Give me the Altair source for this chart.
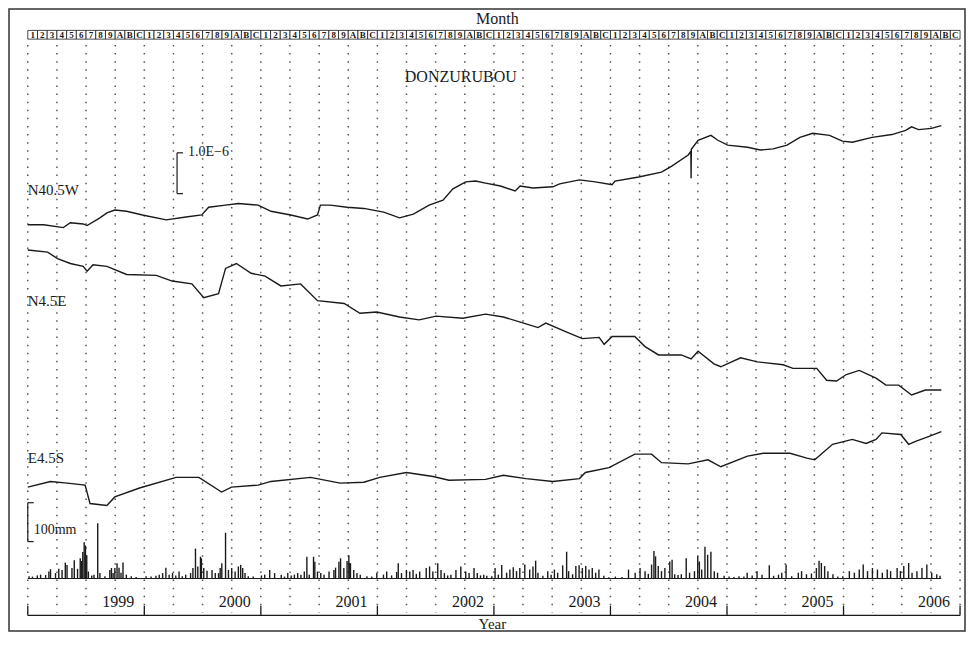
import altair as alt
import pandas as pd

# ---------------- data ----------------
MONTH_CODES = ["1", "2", "3", "4", "5", "6", "7", "8", "9", "A", "B", "C"]
YEAR_LABELS = ["1999", "2000", "2001", "2002", "2003", "2004", "2005", "2006"]

# N40.5W strain (x 1e-6, relative)
N40_T = [1998.000, 1998.136, 1998.305, 1998.365, 1998.475, 1998.509, 1998.619, 1998.679, 1998.747, 1998.848, 1998.984,
         1999.188, 1999.357, 1999.493, 1999.552, 1999.697, 1999.807, 1999.977,
         2000.087, 2000.257, 2000.401, 2000.486, 2000.511, 2000.596, 2000.740, 2000.884,
         2001.054, 2001.190, 2001.309, 2001.444, 2001.563, 2001.648, 2001.758, 2001.843, 2001.928,
         2002.056, 2002.182, 2002.225, 2002.335, 2002.505, 2002.564, 2002.734, 2002.870,
         2003.014, 2003.039, 2003.243, 2003.438, 2003.523, 2003.667, 2003.690, 2003.692, 2003.694, 2003.752, 2003.862, 2003.922,
         2004.006, 2004.176, 2004.286, 2004.397, 2004.515, 2004.626, 2004.736, 2004.880, 2004.990,
         2005.075, 2005.245, 2005.415, 2005.533, 2005.584, 2005.644, 2005.754, 2005.839]
N40_V = [0.00, 0.00, -0.07, 0.05, 0.02, -0.02, 0.17, 0.29, 0.36, 0.33, 0.24,
         0.12, 0.19, 0.24, 0.43, 0.48, 0.52, 0.48,
         0.33, 0.24, 0.14, 0.24, 0.48, 0.48, 0.43, 0.40,
         0.31, 0.17, 0.26, 0.48, 0.60, 0.88, 1.05, 1.07, 1.02,
         0.95, 0.83, 0.95, 0.90, 0.93, 1.00, 1.10, 1.05,
         0.98, 1.07, 1.17, 1.29, 1.43, 1.71, 1.80, 1.14, 1.85, 2.07, 2.19, 2.07,
         1.95, 1.90, 1.83, 1.86, 1.95, 2.14, 2.24, 2.19, 2.05,
         2.02, 2.14, 2.21, 2.31, 2.40, 2.33, 2.36, 2.43]

# N4.5E strain
N4_T = [1998.000, 1998.170, 1998.255, 1998.365, 1998.475, 1998.509, 1998.560, 1998.679, 1998.848,
        1999.103, 1999.239, 1999.408, 1999.510, 1999.637, 1999.697, 1999.790, 1999.917,
        2000.036, 2000.172, 2000.341, 2000.486, 2000.715, 2000.850, 2000.995,
        2001.190, 2001.359, 2001.504, 2001.733, 2001.928,
        2002.081, 2002.276, 2002.378, 2002.445, 2002.615, 2002.759, 2002.903, 2002.946,
        2003.014, 2003.209, 2003.294, 2003.413, 2003.608, 2003.692, 2003.752, 2003.888, 2003.947,
        2004.117, 2004.261, 2004.482, 2004.566, 2004.770, 2004.855, 2004.940,
        2005.024, 2005.135, 2005.279, 2005.364, 2005.474, 2005.584, 2005.703, 2005.839]
N4_V = [0.00, -0.05, -0.21, -0.33, -0.40, -0.52, -0.36, -0.40, -0.60,
        -0.62, -0.76, -0.83, -1.17, -1.07, -0.45, -0.33, -0.57,
        -0.64, -0.88, -0.83, -1.24, -1.31, -1.55, -1.52,
        -1.64, -1.71, -1.62, -1.67, -1.57,
        -1.64, -1.81, -1.90, -1.79, -2.00, -2.17, -2.14, -2.31,
        -2.12, -2.12, -2.36, -2.57, -2.57, -2.67, -2.48, -2.79, -2.86,
        -2.64, -2.74, -2.81, -2.90, -2.90, -3.19, -3.21,
        -3.05, -2.95, -3.14, -3.31, -3.31, -3.55, -3.43, -3.43]

# E4.5S strain
E4_T = [1998.000, 1998.195, 1998.339, 1998.492, 1998.534, 1998.679, 1998.747, 1998.959,
        1999.273, 1999.468, 1999.663, 1999.748, 1999.977,
        2000.087, 2000.426, 2000.681, 2000.884,
        2001.020, 2001.249, 2001.478, 2001.614, 2001.928,
        2002.081, 2002.276, 2002.505, 2002.734, 2002.785, 2002.988,
        2003.209, 2003.353, 2003.438, 2003.667, 2003.837, 2003.947,
        2004.176, 2004.312, 2004.541, 2004.685, 2004.753, 2004.906,
        2005.075, 2005.194, 2005.279, 2005.330, 2005.491, 2005.559, 2005.618, 2005.729, 2005.839]
E4_V = [0.00, 0.14, 0.10, 0.05, -0.40, -0.45, -0.24, -0.02,
        0.24, 0.24, -0.12, 0.00, 0.05,
        0.14, 0.24, 0.10, 0.12,
        0.24, 0.36, 0.26, 0.17, 0.19,
        0.29, 0.21, 0.14, 0.21, 0.36, 0.48,
        0.81, 0.81, 0.60, 0.57, 0.67, 0.50,
        0.76, 0.83, 0.83, 0.71, 0.67, 1.05,
        1.17, 1.07, 1.17, 1.33, 1.29, 1.05, 1.12, 1.24, 1.36]

# Rainfall (mm)
RAIN_T = [1998.011, 1998.040, 1998.082, 1998.110, 1998.153, 1998.181, 1998.195, 1998.238, 1998.266, 1998.294,
          1998.322, 1998.337, 1998.379, 1998.399, 1998.427, 1998.450, 1998.461, 1998.472, 1998.484, 1998.495,
          1998.506, 1998.520, 1998.549, 1998.568, 1998.600, 1998.619, 1998.662, 1998.704, 1998.718, 1998.732,
          1998.747, 1998.766, 1998.783, 1998.800, 1998.817, 1998.846, 1998.888, 1998.930,
          1999.015, 1999.058, 1999.100, 1999.128, 1999.157, 1999.185, 1999.213, 1999.242, 1999.270, 1999.298,
          1999.326, 1999.355, 1999.397, 1999.417, 1999.439, 1999.459, 1999.482, 1999.490, 1999.510, 1999.538,
          1999.581, 1999.609, 1999.637, 1999.651, 1999.665, 1999.697, 1999.722, 1999.750, 1999.779, 1999.807,
          1999.827, 1999.844, 1999.864, 1999.892, 1999.934,
          2000.005, 2000.033, 2000.076, 2000.118, 2000.175, 2000.203, 2000.231, 2000.260, 2000.288, 2000.316,
          2000.344, 2000.373, 2000.395, 2000.415, 2000.452, 2000.463, 2000.486, 2000.514, 2000.542, 2000.585,
          2000.627, 2000.641, 2000.670, 2000.684, 2000.712, 2000.740, 2000.755, 2000.763, 2000.769, 2000.797,
          2000.825, 2000.853, 2000.910, 2000.952, 2000.995,
          2001.052, 2001.080, 2001.122, 2001.165, 2001.179, 2001.207, 2001.249, 2001.278, 2001.306, 2001.334,
          2001.363, 2001.419, 2001.448, 2001.476, 2001.518, 2001.546, 2001.575, 2001.603, 2001.631, 2001.674,
          2001.716, 2001.758, 2001.787, 2001.829, 2001.857, 2001.885, 2001.913, 2001.939, 2001.982,
          2002.010, 2002.038, 2002.067, 2002.109, 2002.137, 2002.166, 2002.194, 2002.222, 2002.265, 2002.307,
          2002.335, 2002.358, 2002.378, 2002.420, 2002.462, 2002.491, 2002.519, 2002.547, 2002.590, 2002.624,
          2002.641, 2002.675, 2002.703, 2002.731, 2002.759, 2002.788, 2002.816, 2002.844, 2002.873, 2002.901,
          2002.943, 2002.986,
          2003.042, 2003.099, 2003.155, 2003.212, 2003.254, 2003.297, 2003.325, 2003.353, 2003.373, 2003.387,
          2003.410, 2003.438, 2003.467, 2003.509, 2003.529, 2003.551, 2003.580, 2003.608, 2003.650, 2003.679,
          2003.721, 2003.749, 2003.763, 2003.783, 2003.811, 2003.834, 2003.862, 2003.891, 2003.919, 2003.975,
          2004.018, 2004.060, 2004.103, 2004.145, 2004.173, 2004.216, 2004.258, 2004.301, 2004.363, 2004.400,
          2004.442, 2004.470, 2004.507, 2004.555, 2004.612, 2004.640, 2004.682, 2004.725, 2004.767, 2004.790,
          2004.810, 2004.838, 2004.866, 2004.909, 2004.951, 2004.994,
          2005.050, 2005.093, 2005.135, 2005.169, 2005.206, 2005.248, 2005.291, 2005.333, 2005.375, 2005.404,
          2005.460, 2005.488, 2005.517, 2005.559, 2005.588, 2005.630, 2005.673, 2005.715, 2005.757, 2005.800,
          2005.828]
RAIN_MM = [6, 5, 8, 10, 9, 18, 24, 14, 25, 22,
           41, 35, 27, 47, 25, 52, 45, 68, 93, 85,
           60, 18, 8, 10, 142, 14, 6, 22, 27, 14,
           27, 39, 28, 15, 41, 10, 6, 4,
           6, 5, 7, 10, 14, 28, 10, 14, 8, 18,
           6, 10, 14, 27, 77, 31, 56, 52, 27, 20,
           22, 14, 14, 27, 39, 118, 22, 27, 18, 31,
           35, 27, 14, 6, 5,
           8, 10, 22, 14, 10, 5, 14, 8, 10, 14,
           10, 18, 56, 10, 56, 43, 18, 14, 10, 18,
           22, 28, 43, 52, 27, 45, 60, 40, 39, 22,
           14, 10, 6, 5, 14,
           10, 18, 8, 17, 39, 14, 22, 18, 22, 12,
           18, 27, 31, 18, 39, 22, 14, 8, 10, 22,
           31, 18, 14, 27, 14, 8, 10, 7, 6,
           27, 10, 35, 15, 23, 29, 19, 27, 36, 23,
           31, 46, 15, 7, 19, 10, 23, 15, 34, 69,
           19, 11, 32, 34, 27, 32, 23, 27, 15, 23,
           7, 3,
           5, 4, 23, 15, 27, 19, 12, 36, 71, 57,
           32, 19, 27, 44, 48, 11, 9, 11, 52, 15,
           19, 57, 44, 23, 82, 61, 69, 19, 15, 7,
           5, 4, 6, 5, 15, 8, 19, 10, 34, 7,
           10, 15, 36, 6, 15, 19, 11, 13, 27, 46,
           40, 32, 19, 11, 5, 6,
           19, 15, 23, 36, 19, 27, 23, 15, 23, 19,
           27, 19, 32, 40, 15, 19, 27, 36, 15, 11,
           7]

# ---------------- layout helpers ----------------
W, H = 956, 622
FONT = "Liberation Serif"
INK = "#1a1a1a"


def vx(X):
    return (X - 8) * W / 967


def vy(Y):
    return (Y - 5) * H / 640


K = 42 * H / 640  # pixels per 1e-6 strain
MMPX = 0.4 * H / 640  # pixels per mm rain

xscale = alt.Scale(domain=[1998, 2006], range=[vx(27), vx(970)], nice=False, zero=False)


def sscale(y0):
    c = vy(y0)
    return alt.Scale(domain=[-6, 6], range=[c + 6 * K, c - 6 * K], nice=False, zero=False)


ONE = pd.DataFrame({"k": [0]})


def label(txt, X, Y, size, align="left", weight="normal"):
    return alt.Chart(ONE).mark_text(text=txt, align=align, baseline="middle", font=FONT,
                                    fontSize=size, fontWeight=weight, color=INK).encode(
        x=alt.value(vx(X)), y=alt.value(vy(Y)))


def seg(X1, Y1, X2, Y2, w=1.2):
    return alt.Chart(ONE).mark_rule(color=INK, strokeWidth=w).encode(
        x=alt.value(vx(X1)), x2=alt.value(vx(X2)), y=alt.value(vy(Y1)), y2=alt.value(vy(Y2)))


X = alt.X("t:Q", scale=xscale, axis=None)

# quarterly dotted grid
grid_df = pd.DataFrame({"t": [1998 + k / 4 for k in range(33)]})
grid = alt.Chart(grid_df).mark_rule(color="#555", strokeWidth=1.5, strokeDash=[1.5, 6.6]).encode(
    x=X, y=alt.value(vy(42)), y2=alt.value(vy(626)))

# month boxes
mdf = pd.DataFrame({
    "t": [1998 + i / 12 for i in range(96)],
    "t1": [1998 + (i + 1) / 12 for i in range(96)],
    "mid": [1998 + (i + 0.5) / 12 for i in range(96)],
    "code": [MONTH_CODES[i % 12] for i in range(96)],
})
mbox = alt.Chart(mdf).mark_rect(fill="white", stroke=INK, strokeWidth=0.8).encode(
    x=X, x2="t1:Q", y=alt.value(vy(27)), y2=alt.value(vy(36)))
mtext = alt.Chart(mdf).mark_text(font=FONT, fontSize=9, fontWeight="bold", color=INK, baseline="middle").encode(
    x=alt.X("mid:Q", scale=xscale, axis=None), y=alt.value(vy(31.7)), text="code:N")


def trace(t, v, y0):
    df = pd.DataFrame({"t": t, "v": v})
    return alt.Chart(df).mark_line(color=INK, strokeWidth=1.4).encode(
        x=X, y=alt.Y("v:Q", scale=sscale(y0), axis=None))


tr1 = trace(N40_T, N40_V, 227)
tr2 = trace(N4_T, N4_V, 253)
tr3 = trace(E4_T, E4_V, 497)

rain_df = pd.DataFrame({"t": RAIN_T, "mm": RAIN_MM})
rain = alt.Chart(rain_df).mark_rule(color=INK, strokeWidth=1.4).encode(
    x=X,
    y=alt.Y("mm:Q", scale=alt.Scale(domain=[0, 200], range=[vy(591), vy(591) - 200 * MMPX],
                                    nice=False, zero=False), axis=None),
    y2=alt.datum(0))
rain_base = seg(27, 591, 951, 591, 1.0)

# bottom axis
yr_df = pd.DataFrame({"t": [1998 + i for i in range(9)]})
yticks = alt.Chart(yr_df).mark_rule(color=INK, strokeWidth=1.3).encode(
    x=X, y=alt.value(vy(619)), y2=alt.value(vy(629)))
axis_line = seg(27, 629, 970, 629, 1.3)
yl_df = pd.DataFrame({"t": [1999 + i for i in range(8)], "lab": YEAR_LABELS})
ylabels = alt.Chart(yl_df).mark_text(font=FONT, fontSize=16, color=INK, align="right", dx=-10,
                                     baseline="middle").encode(x=X, y=alt.value(vy(615)), text="lab:N")

layers = [
    grid, mbox, mtext, rain_base, rain, tr1, tr2, tr3, axis_line, yticks, ylabels,
    label("Month", 502, 15, 16, align="center"),
    label("Year", 497, 638, 15, align="center"),
    label("DONZURUBOU", 465, 75, 16, align="center"),
    label("1.0E\u22126", 189, 152, 14),
    label("N40.5W", 27, 191, 15),
    label("N4.5E", 27, 305, 15),
    label("E4.5S", 27, 467, 15),
    label("100mm", 33, 541, 14),
    seg(178, 153, 178, 195), seg(178, 153, 184, 153), seg(178, 195, 184, 195),
    seg(27, 513, 27, 553), seg(27, 513, 33, 513), seg(27, 553, 33, 553),
]

chart = alt.layer(*layers).resolve_scale(y="independent").properties(
    width=W, height=H, padding=1, autosize=alt.AutoSizeParams(type="none")
).configure_view(stroke="#333", strokeWidth=1.5)

chart.save("out.html", embed_options={"renderer": "svg", "actions": False})
